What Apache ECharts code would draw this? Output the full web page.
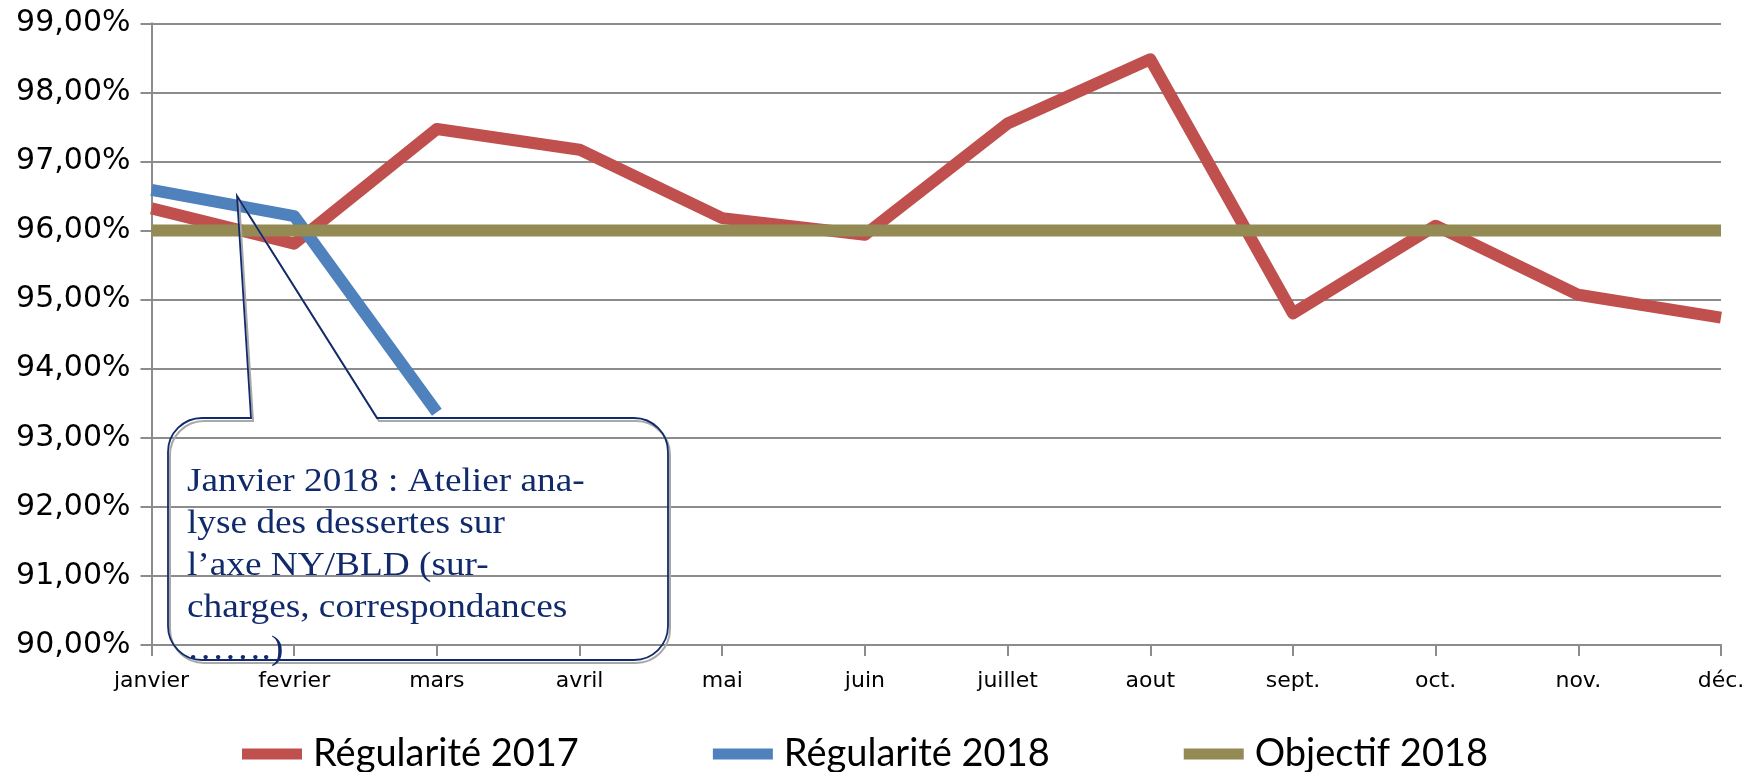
<!DOCTYPE html>
<html>
<head>
<meta charset="utf-8">
<script src="https://cdn.jsdelivr.net/npm/echarts@6/dist/echarts.min.js"></script>
<style>
html,body{margin:0;padding:0;background:#fff;}
#chart{width:1754px;height:772px;}
</style>
</head>
<body>
<div id="chart"></div>
<script>
const months = ['janvier','fevrier','mars','avril','mai','juin','juillet','aout','sept.','oct.','nov.','déc.'];
const regularite2017 = [96.32, 95.81, 97.47, 97.17, 96.18, 95.94, 97.55, 98.48, 94.80, 96.07, 95.07, 94.74];
const regularite2018 = [96.59, 96.21, 93.37];
const objectif2018 = [96, 96, 96, 96, 96, 96, 96, 96, 96, 96, 96, 96];
const seriesNames = ['Régularité 2017', 'Régularité 2018', 'Objectif 2018'];
const yMin = 90, yMax = 99, yStep = 1;
const noteLines = [
  'Janvier 2018 : Atelier ana-',
  'lyse des dessertes sur',
  'l\u2019axe NY/BLD (sur-',
  'charges, correspondances',
  '\u2026\u2026.)'
];

const gridColor = '#8c8c8c';
const navy = '#102a6c';

// callout shape (annotation box)
const Callout = echarts.graphic.extendShape({
  shape: {x0: 0, y0: 0, x1: 0, y1: 0, r: 0, tipX: 0, tipY: 0, baseL: 0, baseR: 0},
  buildPath: function (ctx, s) {
    const PI = Math.PI;
    ctx.moveTo(s.x0 + s.r, s.y0);
    ctx.lineTo(s.baseL, s.y0);
    ctx.lineTo(s.tipX, s.tipY);
    ctx.lineTo(s.baseR, s.y0);
    ctx.lineTo(s.x1 - s.r, s.y0);
    ctx.arc(s.x1 - s.r, s.y0 + s.r, s.r, -PI / 2, 0, false);
    ctx.lineTo(s.x1, s.y1 - s.r);
    ctx.arc(s.x1 - s.r, s.y1 - s.r, s.r, 0, PI / 2, false);
    ctx.lineTo(s.x0 + s.r, s.y1);
    ctx.arc(s.x0 + s.r, s.y1 - s.r, s.r, PI / 2, PI, false);
    ctx.lineTo(s.x0, s.y0 + s.r);
    ctx.arc(s.x0 + s.r, s.y0 + s.r, s.r, PI, PI * 1.5, false);
    ctx.closePath();
  }
});
echarts.graphic.registerShape('callout', Callout);
const calloutShape = {x0: 168, y0: 418, x1: 668, y1: 660, r: 34, tipX: 237, tipY: 196, baseL: 251, baseR: 377};

const chart = echarts.init(document.getElementById('chart'), null, {renderer: 'canvas'});
function lineSeries(name, data, color) {
  return {
    type: 'line', name: name, data: data, symbol: 'none', animation: false,
    color: color, itemStyle: {color: color},
    lineStyle: {width: 12, color: color, cap: 'butt', join: 'round'}
  };
}
chart.setOption({
  animation: false,
  backgroundColor: '#ffffff',
  grid: {left: 151.5, right: 33, top: 23.3, bottom: 127, containLabel: false},
  legend: {
    data: seriesNames,
    left: 242,
    top: 734,
    padding: 0,
    icon: 'rect',
    itemWidth: 60,
    itemHeight: 11,
    itemGap: 134,
    textStyle: {fontFamily: 'Lato', fontSize: 38, color: '#000', lineHeight: 40, padding: [0, 0, 0, 6]}
  },
  xAxis: {
    type: 'category',
    data: months,
    boundaryGap: false,
    axisLine: {lineStyle: {color: gridColor, width: 2}},
    axisTick: {show: true, length: 11, interval: 0, lineStyle: {color: gridColor, width: 2}},
    axisLabel: {interval: 0, fontFamily: 'DejaVu Sans', fontSize: 22, color: '#000', margin: 25},
    splitLine: {show: false}
  },
  yAxis: {
    type: 'value',
    min: yMin,
    max: yMax,
    interval: yStep,
    axisLine: {show: true, lineStyle: {color: gridColor, width: 2}},
    axisTick: {show: true, length: 11, lineStyle: {color: gridColor, width: 2}},
    axisLabel: {
      fontFamily: 'DejaVu Sans', fontSize: 30, color: '#000', margin: 21,
      formatter: v => v.toFixed(2).replace('.', ',') + '%'
    },
    splitLine: {show: true, lineStyle: {color: gridColor, width: 2}}
  },
  series: [
    lineSeries(seriesNames[0], regularite2017, '#C0504D'),
    lineSeries(seriesNames[1], regularite2018, '#4F81BD'),
    lineSeries(seriesNames[2], objectif2018, '#948A54')
  ],
  graphic: [
    {type: 'callout', z: 100, x: 2, y: 3, silent: true, shape: calloutShape,
     style: {fill: 'none', stroke: '#a8a8a8', lineWidth: 2}},
    {type: 'callout', z: 101, silent: true, shape: calloutShape,
     style: {fill: 'none', stroke: navy, lineWidth: 1.8}},
    {type: 'text', z: 102, x: 187, y: 461, scaleX: 1.13, silent: true,
     style: {text: noteLines.join('\n'), font: '33px "Liberation Serif"', fill: navy, lineHeight: 42}}
  ]
});
</script>
</body>
</html>
